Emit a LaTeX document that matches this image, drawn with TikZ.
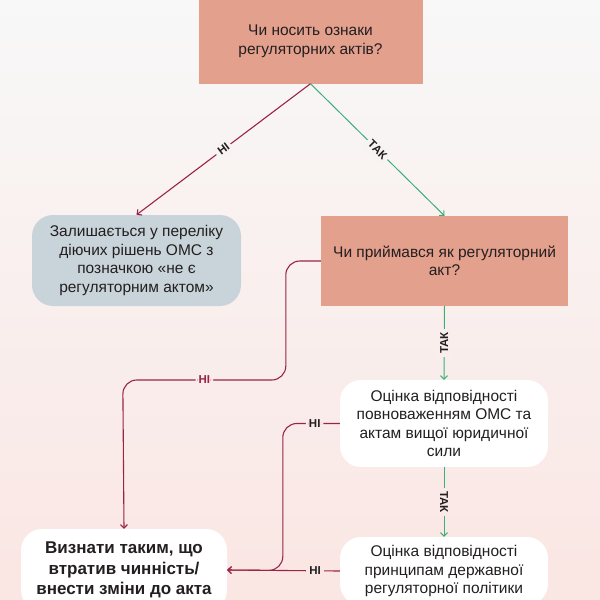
\documentclass[tikz,border=0pt]{standalone}
\usepackage{fontspec}
\setmainfont{Liberation Sans}
\usetikzlibrary{arrows.meta, positioning, calc}

\definecolor{bgtop}{HTML}{F8F8F8}
\definecolor{bgbot}{HTML}{FAE6E3}
\definecolor{salmon}{HTML}{E3A08D}
\definecolor{bluegray}{HTML}{C9D4DA}
\definecolor{nored}{HTML}{9A2447}
\definecolor{yesgreen}{HTML}{3CAF78}
\definecolor{ink}{HTML}{231F20}

\begin{document}
\begin{tikzpicture}[x=1pt, y=-1pt, % 1 pixel = 1pt, y downwards
    qbox/.style={fill=salmon, text=ink, align=center, inner sep=0pt, font=\fontsize{15.5}{18.5}\selectfont},
    rbox/.style={fill=#1, text=ink, align=center, inner sep=0pt, rounded corners=21pt, font=\fontsize{15.5}{18.5}\selectfont},
    noline/.style={draw=nored, line width=1.1pt, -{Straight Barb[length=3.5pt,width=7pt]}},
    yesline/.style={draw=yesgreen, line width=1pt, -{Straight Barb[length=3.5pt,width=7pt]}},
    lbl/.style={fill=bgbot!#1!bgtop, inner sep=3pt, text=ink, font=\bfseries\fontsize{11.5}{11.5}\selectfont}
  ]

  % Фон
  \useasboundingbox (0,0) rectangle (600,600);
  \shade[top color=bgtop, bottom color=bgbot] (0,0) rectangle (600,600);

  % Блоки
  \node[qbox, minimum width=224pt, minimum height=84pt] (ask) at (310.5,41.5) {Чи носить ознаки\\регуляторних актів?};
  \node[rbox=bluegray, minimum width=209pt, minimum height=91pt] (keep) at (136.5,260.5) {Залишається у переліку\\діючих рішень ОМС з\\позначкою «не є\\регуляторним актом»};
  \node[qbox, minimum width=247pt, minimum height=90pt] (adopt) at (444.5,261) {Чи приймався як регуляторний\\акт?};
  \node[rbox=white, minimum width=208pt, minimum height=87pt] (power) at (444,423.5) {Оцінка відповідності\\повноваженням ОМС та\\актам вищої юридичної\\сили};
  \node[rbox=white, minimum width=208pt, minimum height=68pt] (policy) at (444,571) {Оцінка відповідності\\принципам державної\\регуляторної політики};
  \node[rbox=white, minimum width=206pt, minimum height=82pt, font=\bfseries\fontsize{17}{20.5}\selectfont] (repeal) at (124,570) {Визнати таким, що\\втратив чинність/\\внести зміни до акта};

  % Стрілки
  \draw[noline] (ask.south) -- node[lbl=25, sloped] {НІ} (keep.north);
  \draw[yesline] (ask.south) -- node[lbl=25, sloped] {ТАК} (adopt.north);
  \draw[yesline] (adopt.south) -- node[lbl=57, sloped] {ТАК} (power.north);
  \draw[yesline] (power.south) -- node[lbl=84, sloped] {ТАК} (policy.north);
  \draw[noline, rounded corners=14pt] (adopt.west) -- ++(-35,0) -- ++(0,119) -- node[lbl=63, text=nored] {НІ} ++(-163,0) -- (repeal.north);
  \draw[noline, rounded corners=14pt] (power.west) -- node[lbl=71, pos=0.44] {НІ} ++(-57,0) -- ++(0,147) -- (repeal.east);
  \draw[noline] (policy.west) -- node[lbl=95, pos=0.22] {НІ} (repeal.east);

\end{tikzpicture}
\end{document}
